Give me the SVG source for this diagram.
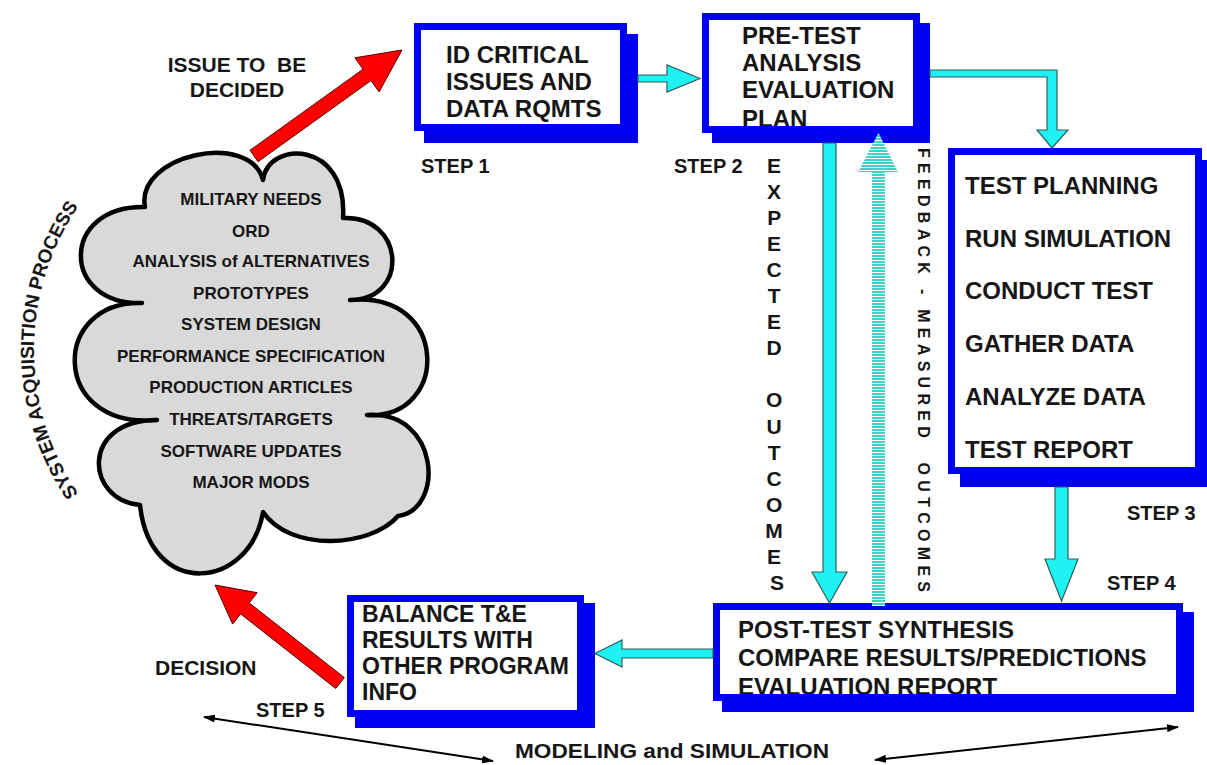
<svg xmlns="http://www.w3.org/2000/svg" width="1207" height="765" viewBox="0 0 1207 765">
  <style>
    text { font-family: "Liberation Sans", Arial, sans-serif; font-weight: bold; fill: #161616; }
    .box { font-size: 24px; }
    .box5 { font-size: 23px; }
    .cloudtxt { font-size: 17px; text-anchor: middle; }
    .step { font-size: 20px; }
    .lbl { font-size: 21px; }
    .shadow { fill: #0000f2; }
    .face { fill: #ffffff; }
    .frame { fill: none; stroke: #0000f2; stroke-width: 7; }
    .cyan { fill: #1ff2f2; stroke: #2f5f5f; stroke-width: 1.2; stroke-linejoin: miter; }
    .red { fill: #ff0000; stroke: #5a0000; stroke-width: 1; }
    .ms { fill: none; stroke: #000; stroke-width: 2; marker-start: url(#tip); marker-end: url(#tip); }
  </style>
  <defs>
    <pattern id="stripes" width="6" height="3" patternUnits="userSpaceOnUse">
      <rect width="6" height="3" fill="#ffffff"/>
      <rect width="6" height="2" fill="#3fd2c8"/>
    </pattern>
    <marker id="tip" viewBox="0 0 12 8" refX="11" refY="4" markerWidth="12" markerHeight="8" markerUnits="userSpaceOnUse" orient="auto-start-reverse">
      <path d="M0,0 L12,4 L0,8 z" fill="#000"/>
    </marker>
    <path id="arcPath" d="M93.7,513.9 A255,255 0 0 1 93.7,186.1"/>
  </defs>

  <rect width="1207" height="765" fill="#ffffff"/>

  <!-- acquisition cloud -->
  <g id="cloud">
    <path d="M145,207 C135,155 250,130 263,180 C268,140 348,140 343,218 C405,215 410,300 350,300 C450,290 450,420 367,415 C440,410 445,510 398,516 C370,548 290,552 263,512 C250,590 150,600 140,505 C85,500 80,420 157,420 C50,430 50,300 142,303 C60,305 60,205 145,207 Z" fill="#d9d9d9" stroke="#000" stroke-width="4.5" stroke-linejoin="round"/>
    <text class="cloudtxt" x="251" y="205">MILITARY NEEDS</text>
    <text class="cloudtxt" x="251" y="237">ORD</text>
    <text class="cloudtxt" x="251" y="267">ANALYSIS of ALTERNATIVES</text>
    <text class="cloudtxt" x="251" y="299">PROTOTYPES</text>
    <text class="cloudtxt" x="251" y="330">SYSTEM DESIGN</text>
    <text class="cloudtxt" x="251" y="362">PERFORMANCE SPECIFICATION</text>
    <text class="cloudtxt" x="251" y="393">PRODUCTION ARTICLES</text>
    <text class="cloudtxt" x="251" y="425">THREATS/TARGETS</text>
    <text class="cloudtxt" x="251" y="457">SOFTWARE UPDATES</text>
    <text class="cloudtxt" x="251" y="488">MAJOR MODS</text>
  </g>

  <g id="acquisition-label">
    <text font-size="19"><textPath href="#arcPath" startOffset="50%" text-anchor="middle">SYSTEM ACQUISITION PROCESS</textPath></text>
  </g>

  <!-- step 1 -->
  <g id="box1">
    <rect class="shadow" x="424" y="34" width="214" height="109"/>
    <rect class="face" x="417.5" y="26.5" width="206" height="101"/>
    <text class="box" x="446" y="63">ID CRITICAL</text>
    <text class="box" x="446" y="90">ISSUES AND</text>
    <text class="box" x="446" y="117">DATA RQMTS</text>
    <rect class="frame" x="417.5" y="26.5" width="206" height="101"/>
  </g>

  <!-- step 2 -->
  <g id="box2">
    <rect class="shadow" x="712" y="23" width="218" height="120"/>
    <rect class="face" x="705.5" y="16.5" width="211" height="113"/>
    <text class="box" x="742" y="44">PRE-TEST</text>
    <text class="box" x="742" y="71">ANALYSIS</text>
    <text class="box" x="742" y="98">EVALUATION</text>
    <text class="box" x="742" y="127">PLAN</text>
    <rect class="frame" x="705.5" y="16.5" width="211" height="113"/>
  </g>

  <!-- step 3 -->
  <g id="box3">
    <rect class="shadow" x="960" y="160" width="254" height="327"/>
    <rect class="face" x="951.5" y="151.5" width="247" height="319"/>
    <text class="box" x="965" y="194">TEST PLANNING</text>
    <text class="box" x="965" y="247">RUN SIMULATION</text>
    <text class="box" x="965" y="299">CONDUCT TEST</text>
    <text class="box" x="965" y="352">GATHER DATA</text>
    <text class="box" x="965" y="405">ANALYZE DATA</text>
    <text class="box" x="965" y="458">TEST REPORT</text>
    <rect class="frame" x="951.5" y="151.5" width="247" height="319"/>
  </g>

  <!-- step 4 -->
  <g id="box4">
    <rect class="shadow" x="722" y="612" width="472" height="100"/>
    <rect class="face" x="716.5" y="606.5" width="463" height="91"/>
    <text class="box" x="738" y="638">POST-TEST SYNTHESIS</text>
    <text class="box" x="738" y="666">COMPARE RESULTS/PREDICTIONS</text>
    <text class="box" x="738" y="695">EVALUATION REPORT</text>
    <rect class="frame" x="716.5" y="606.5" width="463" height="91"/>
  </g>

  <!-- step 5 -->
  <g id="box5">
    <rect class="shadow" x="355" y="603" width="240" height="125"/>
    <rect class="face" x="350.5" y="598.5" width="230" height="115"/>
    <text class="box5" x="362" y="622">BALANCE T&amp;E</text>
    <text class="box5" x="362" y="648">RESULTS WITH</text>
    <text class="box5" x="362" y="674">OTHER PROGRAM</text>
    <text class="box5" x="362" y="700">INFO</text>
    <rect class="frame" x="350.5" y="598.5" width="230" height="115"/>
  </g>

  <!-- flows between the steps -->
  <g id="connectors">
    <polygon class="red" points="250,150.3 363,69.2 354.9,57.8 402,50 379.1,92 371,80.6 258,161.7"/>
    <polygon class="red" points="344.3,677.5 249.2,602.9 257.2,592.7 215,585 232.6,624.1 240.6,613.9 335.7,688.5"/>
    <polygon class="cyan" points="638,75 667,75 667,65 700,78.5 667,92 667,82 638,82"/>
    <polygon class="cyan" points="930,70 1057,70 1057,130 1068,130 1052,148 1037,130 1047,130 1047,77 930,77"/>
    <polygon class="cyan" points="823,143 836,143 836,572 847,572 829.5,603 812,572 823,572"/>
    <polygon fill="url(#stripes)" points="872,606 872,172 858,172 878.5,133 898,172 885,172 885,606"/>
    <polygon class="cyan" points="1055,487 1068,487 1068,559 1078,559 1061.5,601 1045,559 1055,559"/>
    <polygon class="cyan" points="713,649 622,649 622,640 595,653.5 622,667 622,658 713,658"/>
    <line class="ms" x1="204" y1="717" x2="493" y2="761"/>
    <line class="ms" x1="875" y1="760" x2="1178" y2="727"/>
  </g>

  <!-- labels -->
  <g id="labels">
    <text class="lbl" x="237" y="72" text-anchor="middle" style="white-space:pre">ISSUE TO  BE</text>
    <text class="lbl" x="237" y="97" text-anchor="middle">DECIDED</text>
    <text class="lbl" x="155" y="675">DECISION</text>
    <text class="step" x="421" y="173">STEP 1</text>
    <text class="step" x="674" y="173">STEP 2</text>
    <text class="step" x="1127" y="520">STEP 3</text>
    <text class="step" x="1107" y="590">STEP 4</text>
    <text class="step" x="256" y="717">STEP 5</text>
    <text class="lbl" x="515" y="758" textLength="314" lengthAdjust="spacingAndGlyphs">MODELING and SIMULATION</text>
    <text class="lbl" text-anchor="middle">
      <tspan x="777" y="172.5">E</tspan>
      <tspan x="777" y="198.6">X</tspan>
      <tspan x="777" y="224.7">P</tspan>
      <tspan x="777" y="250.8">E</tspan>
      <tspan x="777" y="276.9">C</tspan>
      <tspan x="777" y="303">T</tspan>
      <tspan x="777" y="329.1">E</tspan>
      <tspan x="777" y="355.2">D</tspan>
      <tspan x="777" y="407.4">O</tspan>
      <tspan x="777" y="433.5">U</tspan>
      <tspan x="777" y="459.6">T</tspan>
      <tspan x="777" y="485.7">C</tspan>
      <tspan x="777" y="511.8">O</tspan>
      <tspan x="777" y="537.9">M</tspan>
      <tspan x="777" y="564">E</tspan>
      <tspan x="777" y="590.1">S</tspan>
    </text>
    <text font-size="16" transform="translate(918,148) rotate(90)" textLength="444" lengthAdjust="spacing" style="white-space:pre">FEEDBACK - MEASURED  OUTCOMES</text>
  </g>
</svg>
